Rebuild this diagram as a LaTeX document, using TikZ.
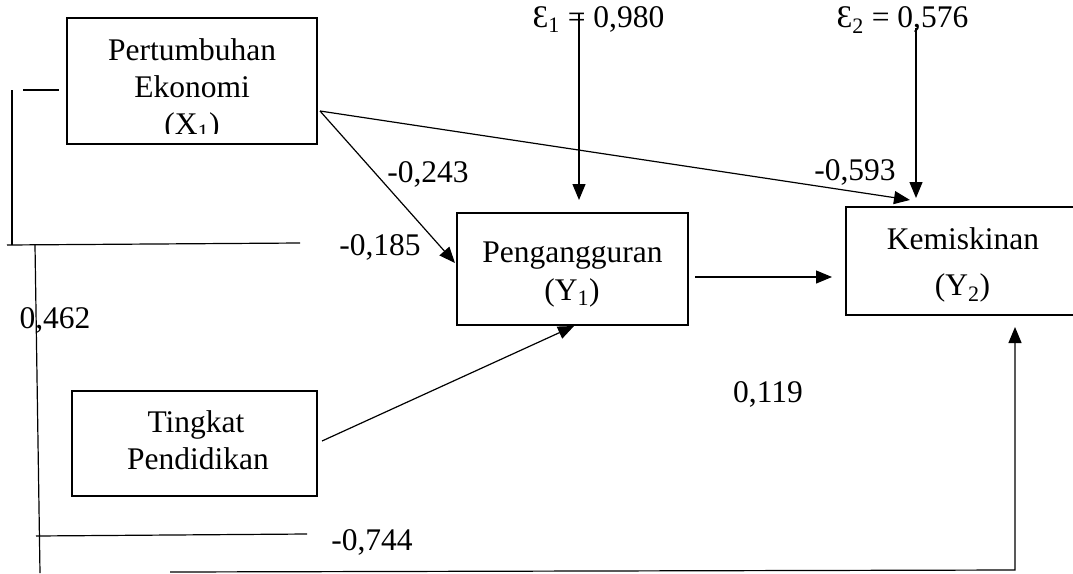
\documentclass[tikz,border=0pt]{standalone}
\usepackage{fontspec}
\setmainfont{Liberation Serif}
\usetikzlibrary{arrows.meta}
\begin{document}
\begin{tikzpicture}[x=1pt,y=-1pt,
  font=\fontsize{31.5}{37}\selectfont,
  box/.style={draw,line width=1.6pt,inner sep=0pt},
  txt/.style={anchor=base,inner sep=0pt},
  ln/.style={line width=1.2pt},
  arr/.style={line width=1.2pt,-{Triangle[length=16pt,width=13pt]}}]
\useasboundingbox (0,0) rectangle (1073,573);
% boxes
\node[box,minimum width=250pt,minimum height=126pt] (x1) at (192,81) {};
\node[box,minimum width=245pt,minimum height=105pt] (x2) at (194.5,443.5) {};
\node[box,minimum width=231pt,minimum height=112pt] (y1) at (572.5,269) {};
\node[box,minimum width=239pt,minimum height=108pt] (y2) at (965.5,261) {};
% box texts
\node[txt] (x1a) at (192,60) {Pertumbuhan};
\node[txt] (x1b) at (192,97) {Ekonomi};
\begin{scope}
\clip (67,18) rectangle (317,133);
\node[txt] (x1c) at (192,134) {(X\textsubscript{1})};
\end{scope}
\node[txt] (x2a) at (196,432) {Tingkat};
\node[txt] (x2b) at (198,469) {Pendidikan};
\node[txt] (y1a) at (572.5,262) {Pengangguran};
\node[txt] (y1b) at (572,300) {(Y\textsubscript{1})};
\node[txt] (y2a) at (963,249) {Kemiskinan};
\node[txt] (y2b) at (962.5,295) {(Y\textsubscript{2})};
% labels
\node[txt] (e1) at (598.5,27) {Ɛ\textsubscript{1} = 0,980};
\node[txt] (e2) at (902.5,27) {Ɛ\textsubscript{2} = 0,576};
\node[txt] (l243) at (428,182) {-0,243};
\node[txt] (l593) at (855,180) {-0,593};
\node[txt] (l185) at (380,255) {-0,185};
\node[txt] (l462) at (55,328) {0,462};
\node[txt] (l119) at (768,402) {0,119};
\node[txt] (l744) at (372,550) {-0,744};
% coordinates
\coordinate (x1r) at (320,111);
\coordinate (x2r) at (322,441);
\coordinate (y1in) at (455,263);
\coordinate (y1bot) at (574,326);
\coordinate (y2tl) at (910,200);
\coordinate (y1o) at (695,277);
\coordinate (y2i) at (832,277);
\coordinate (e1s) at (579,14);
\coordinate (e1t) at (579,200);
\coordinate (e2s) at (916,28);
\coordinate (e2t) at (916,198);
\coordinate (y2b) at (1015,327);
\coordinate (bc) at (1015,570);
\coordinate (bs) at (170,572);
% free lines
\draw[ln] (23,90) -- (59,90);
\draw[ln] (12,90) -- (12,245);
\draw[ln] (7,245) -- (300,243);
\draw[ln] (35,245) -- (40,573);
\draw[ln] (36,536) -- (307,534);
% arrows
\draw[arr] (x1r) -- (y1in);
\draw[arr] (x1r) -- (y2tl);
\draw[arr] (x2r) -- (y1bot);
\draw[arr] (y1o) -- (y2i);
\draw[arr] (e1s) -- (e1t);
\draw[arr] (e2s) -- (e2t);
\draw[arr] (bs) -- (bc) -- (y2b);
\end{tikzpicture}
\end{document}
